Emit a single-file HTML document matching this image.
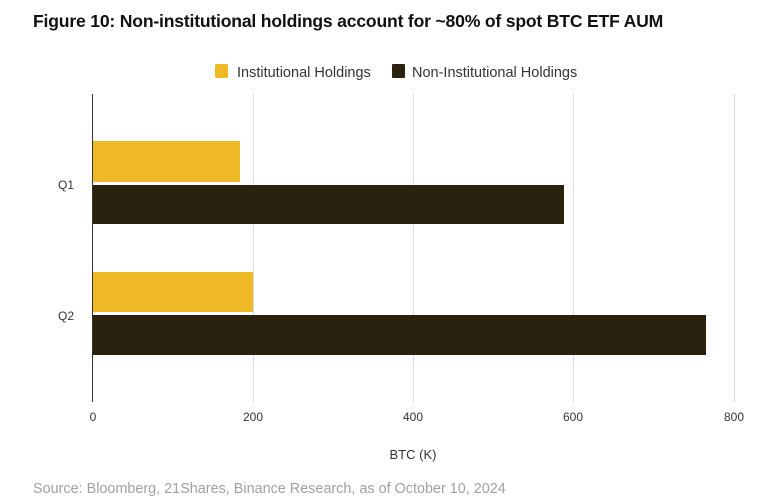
<!DOCTYPE html>
<html><head><meta charset="utf-8"><style>
body{margin:0;width:784px;height:496px;background:#fff;font-family:"Liberation Sans",sans-serif;position:relative;overflow:hidden}
.a{position:absolute;white-space:nowrap}
</style></head><body>
<div class="a" style="left:33px;top:11px;font-size:17.6px;font-weight:bold;color:#111;letter-spacing:-0.2px">Figure 10: Non-institutional holdings account for ~80% of spot BTC ETF AUM</div>
<svg class="a" style="left:0;top:0" width="784" height="496">
<g stroke="#ddd" stroke-width="1">
<line x1="253.5" y1="94" x2="253.5" y2="402"/>
<line x1="413.5" y1="94" x2="413.5" y2="402"/>
<line x1="573.5" y1="94" x2="573.5" y2="402"/>
<line x1="734.5" y1="94" x2="734.5" y2="402"/>
</g>
<rect x="93" y="141" width="147" height="41" fill="#efb926"/>
<rect x="93" y="185" width="471" height="39" fill="#2a210f"/>
<rect x="93" y="272" width="160" height="40" fill="#efb926"/>
<rect x="93" y="315" width="613" height="40" fill="#2a210f"/>
<line x1="92.5" y1="94" x2="92.5" y2="402" stroke="#333" stroke-width="1"/>
<rect x="215" y="64" width="13" height="14" rx="2" fill="#efb926"/>
<rect x="392" y="64" width="13" height="14" rx="1" fill="#2a210f"/>
<g font-family="Liberation Sans,sans-serif" font-size="12" fill="#333">
<text x="237" y="77" font-size="14.5">Institutional Holdings</text>
<text x="412" y="77" font-size="14.5">Non-Institutional Holdings</text>
<text x="58" y="189">Q1</text>
<text x="58" y="320">Q2</text>
<g text-anchor="middle">
<text x="93" y="421">0</text>
<text x="253" y="421">200</text>
<text x="413" y="421">400</text>
<text x="573" y="421">600</text>
<text x="734" y="421">800</text>
<text x="413" y="459" font-size="13">BTC (K)</text>
</g>
</g>
<text x="33" y="493" font-family="Liberation Sans,sans-serif" font-size="14.4" fill="#a0a0a0">Source: Bloomberg, 21Shares, Binance Research, as of October 10, 2024</text>
</svg>
</body></html>
